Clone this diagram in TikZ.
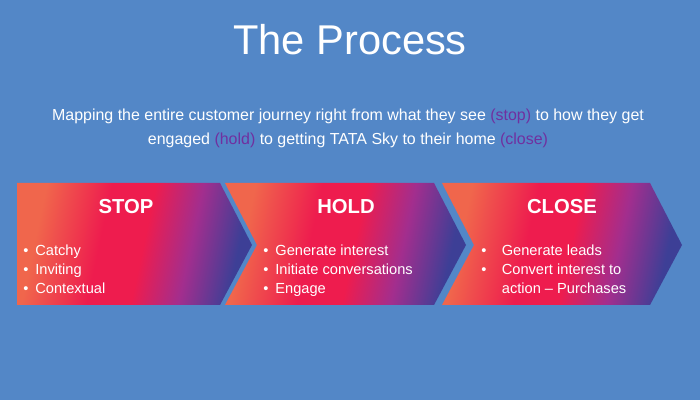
\documentclass[tikz,border=0pt]{standalone}
\usepackage{fontspec}
\setmainfont{Liberation Sans}
\usetikzlibrary{positioning}

\definecolor{bgblue}{HTML}{5387C7}
\definecolor{hlpurple}{HTML}{7030A0}
\definecolor{chevorange}{HTML}{F0664C}
\definecolor{chevred}{HTML}{EE1C4E}
\definecolor{chevpurple}{HTML}{A22E8E}
\definecolor{chevblue}{HTML}{3D3F96}

\pgfdeclarehorizontalshading{chevshade}{100bp}{color(0bp)=(chevorange); color(27bp)=(chevorange);
  color(42bp)=(chevred); color(52bp)=(chevred); color(63bp)=(chevpurple); color(74bp)=(chevblue);
  color(100bp)=(chevblue)}

\begin{document}
\begin{tikzpicture}[x=0.025cm, y=-0.025cm,
    chev/.style={shading=chevshade, shading angle=-12},
    head/.style={text=white, anchor=base, font=\fontsize{14.4}{17}\selectfont\bfseries},
    items/.style={text=white, anchor=base west, inner sep=0pt, font=\fontsize{10.4}{13.2}\selectfont},
    intro/.style={text=white, anchor=base, font=\fontsize{11.35}{13}\selectfont}]
  % Background
  \fill[bgblue] (0,0) rectangle (700,400);
  % Title and intro text
  \node[text=white, anchor=base, font=\fontsize{29.6}{34}\selectfont] (title) at (350,55) {The Process};
  \node[intro] (intro1) at (348,121)
    {Mapping the entire customer journey right from what they see \textcolor{hlpurple}{(stop)} to how they get};
  \node[intro] (intro2) at (348,145)
    {engaged \textcolor{hlpurple}{(hold)} to getting TATA Sky to their home \textcolor{hlpurple}{(close)}};
  % Chevrons
  \shade[chev] (17,183) -- (220,183) -- (252,245) -- (220,305) -- (17,305) -- cycle;
  \shade[chev] (225,183) -- (434,183) -- (466,245) -- (434,305) -- (225,305) -- (257,245) -- cycle;
  \shade[chev] (442,183) -- (650,183) -- (682,245) -- (650,305) -- (442,305) -- (474,245) -- cycle;
  % Headings
  \node[head] (stophead) at (126,214) {STOP};
  \node[head] (holdhead) at (346,214) {HOLD};
  \node[head] (closehead) at (562,214) {CLOSE};
  % Bullet lists
  \node[items] (stoplist) at (23,256)
    {\begin{tabular}[t]{@{}l@{\hspace{5pt}}l@{}}
      • & Catchy\\ • & Inviting\\ • & Contextual
    \end{tabular}};
  \node[items] (holdlist) at (263,256)
    {\begin{tabular}[t]{@{}l@{\hspace{5pt}}l@{}}
      • & Generate interest\\ • & Initiate conversations\\ • & Engage
    \end{tabular}};
  \node[items] (closelist) at (481,256)
    {\begin{tabular}[t]{@{}l@{\hspace{11pt}}l@{}}
      • & Generate leads\\ • & Convert interest to\\ & action -- Purchases
    \end{tabular}};
\end{tikzpicture}
\end{document}
